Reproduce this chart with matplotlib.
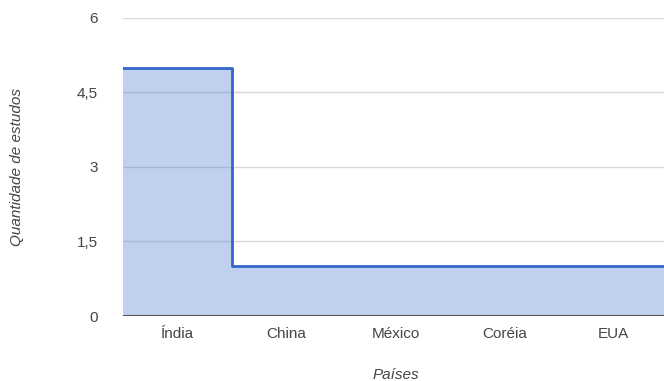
import numpy as np
import matplotlib.pyplot as plt
from matplotlib.ticker import FuncFormatter

plt.rcParams["font.family"] = ["Liberation Sans", "DejaVu Sans"]

paises = ["Índia", "China", "México", "Coréia", "EUA"]
estudos = [5, 1, 1, 1, 1]
y_ticks = [0, 1.5, 3, 4.5, 6]

fig = plt.figure(figsize=(6.64, 3.81), dpi=100)
ax = fig.add_axes([0.185, 0.1706, 0.821, 0.7822])

edges = np.arange(len(estudos) + 1)
ax.stairs(estudos, edges, fill=True, color="#3366cc", alpha=0.3, lw=0, zorder=2)
ax.step(edges, estudos + [estudos[-1]], where="post", color="#3366cc", lw=2, zorder=3)

ax.set_xlim(0, len(estudos))
ax.set_ylim(0, 6)
ax.set_yticks(y_ticks)
ax.yaxis.set_major_formatter(FuncFormatter(lambda v, p: f"{v:g}".replace(".", ",")))
ax.set_xticks(edges[:-1] + 0.5)
ax.set_xticklabels(paises)
ax.grid(axis="y", color="#d9d9d9", lw=1, zorder=1)
ax.set_axisbelow(True)
ax.axhline(0, color="#555555", lw=1.5, zorder=4)

for s in ax.spines.values():
    s.set_visible(False)
ax.tick_params(length=0, labelsize=11, colors="#444444")
ax.tick_params(axis="y", pad=18)
ax.tick_params(axis="x", pad=8)

ax.set_ylabel("Quantidade de estudos", style="italic", fontsize=11, color="#444444", va="center")
ax.yaxis.set_label_coords(-0.194, 0.5)
ax.set_xlabel("Países", style="italic", fontsize=11, color="#444444", va="center")
ax.xaxis.set_label_coords(0.5, -0.198)

fig.savefig("out.png", dpi=100)
